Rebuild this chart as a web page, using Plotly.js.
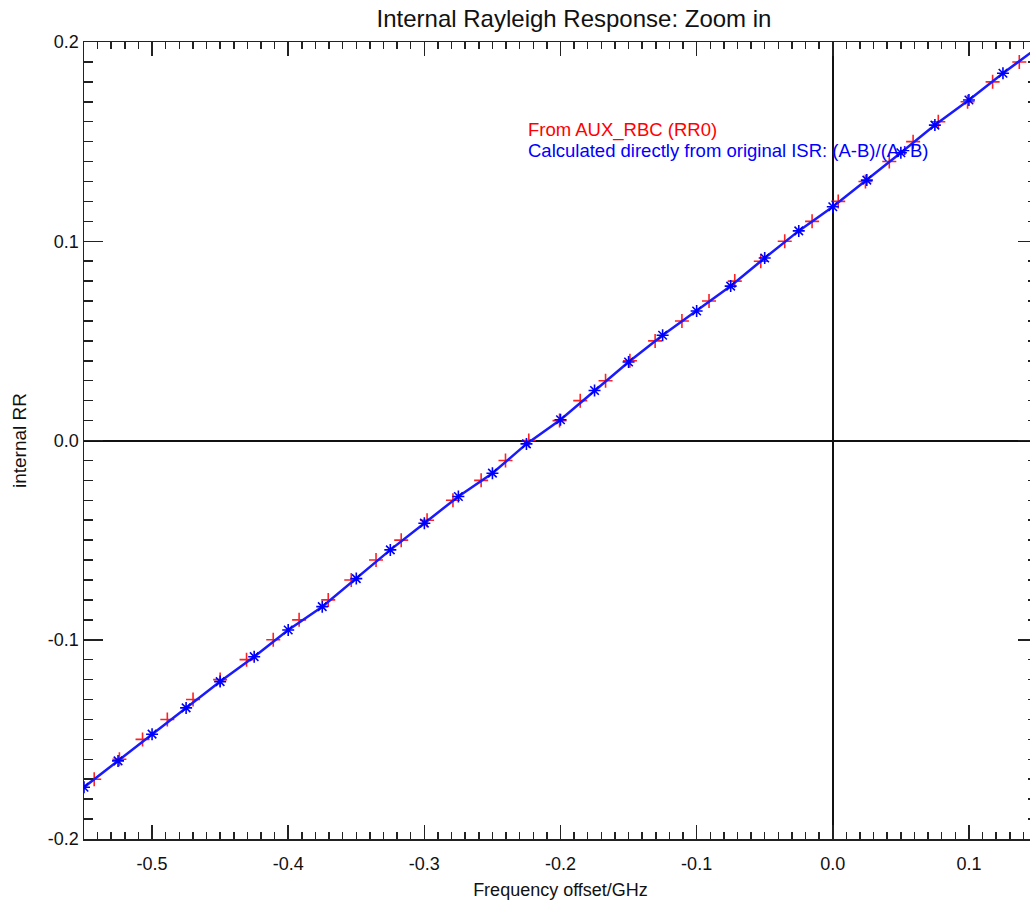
<!DOCTYPE html>
<html>
<head>
<meta charset="utf-8">
<script src="https://cdn.plot.ly/plotly-3.0.1.min.js"></script>
<style>
html, body { margin: 0; padding: 0; overflow: hidden; background: #fff; }
#chart { width: 1050px; height: 905px; }
</style>
</head>
<body>
<div id="chart"></div>
<script>
// Red series: From AUX_RBC (RR0)
const redFreq = [-0.5425, -0.524, -0.507, -0.4888, -0.4699, -0.450, -0.4306, -0.411, -0.392, -0.3706,
                 -0.3537, -0.3355, -0.317, -0.298, -0.279, -0.2583, -0.2404, -0.2233, -0.2007, -0.1855,
                 -0.1669, -0.149, -0.1305, -0.1108, -0.0909, -0.072, -0.0529, -0.0353, -0.0152, 0.004,
                 0.024, 0.0415, 0.059, 0.0775, 0.099, 0.1174, 0.137];
const redRR = [-0.17, -0.16, -0.15, -0.14, -0.13, -0.12, -0.11, -0.10, -0.09, -0.08,
               -0.07, -0.06, -0.05, -0.04, -0.03, -0.02, -0.01, 0.00, 0.01, 0.02,
               0.03, 0.04, 0.05, 0.06, 0.07, 0.08, 0.09, 0.10, 0.11, 0.12,
               0.13, 0.14, 0.15, 0.16, 0.17, 0.18, 0.19];

// Blue series: Calculated directly from original ISR
const blueFreq = [-0.55, -0.525, -0.5, -0.475, -0.45, -0.425, -0.4, -0.375, -0.35, -0.325,
                  -0.3, -0.275, -0.25, -0.225, -0.2, -0.175, -0.15, -0.125, -0.1, -0.075,
                  -0.05, -0.025, 0.0, 0.025, 0.05, 0.075, 0.1, 0.125, 0.15];
const blueRR = [-0.174, -0.1608, -0.1474, -0.1342, -0.1210, -0.1085, -0.0951, -0.0834, -0.0693, -0.0549,
                -0.0415, -0.0281, -0.0164, -0.0017, 0.0104, 0.0251, 0.0394, 0.0528, 0.065, 0.0775,
                0.0916, 0.1052, 0.1173, 0.1307, 0.1444, 0.1583, 0.1709, 0.1843, 0.197];

const xTickVals = [-0.5, -0.4, -0.3, -0.2, -0.1, 0.0, 0.1];
const xTickText = ["-0.5", "-0.4", "-0.3", "-0.2", "-0.1", "0.0", "0.1"];
const yTickVals = [-0.2, -0.1, 0.0, 0.1, 0.2];
const yTickText = ["-0.2", "-0.1", "0.0", "0.1", "0.2"];

const legendLabels = ["From AUX_RBC (RR0)", "Calculated directly from original ISR: (A-B)/(A+B)"];
const legendColors = ["#ff0000", "#0000ff"];

const FONT = "Liberation Sans, Arial, Helvetica, sans-serif";

const traces = [
  {
    x: redFreq, y: redRR, type: "scatter", mode: "markers", name: legendLabels[0],
    marker: { symbol: "cross-thin-open", size: 10, color: "#ff2020", line: { color: "#ff2020", width: 1.6 } },
    cliponaxis: true, hoverinfo: "x+y"
  },
  {
    x: blueFreq, y: blueRR, type: "scatter", mode: "lines+markers", name: legendLabels[1],
    line: { color: "#1a1aff", width: 2.5 },
    marker: { symbol: "asterisk-open", size: 10, color: "#0000ff", line: { color: "#0000ff", width: 1.6 } },
    cliponaxis: true, hoverinfo: "x+y"
  }
];

const axisCommon = {
  showgrid: false,
  zeroline: true,
  zerolinecolor: "#111",
  zerolinewidth: 2,
  showline: true,
  linecolor: "#222",
  linewidth: 1.5,
  mirror: "allticks",
  ticks: "inside",
  tickcolor: "#222",
  tickwidth: 1.5,
  tickfont: { family: FONT, size: 18, color: "#111" }
};

const layout = {
  width: 1050,
  height: 905,
  margin: { l: 84, r: 13, t: 42, b: 66 },
  paper_bgcolor: "#fff",
  plot_bgcolor: "#fff",
  showlegend: false,
  title: {
    text: "Internal Rayleigh Response: Zoom in",
    font: { family: FONT, size: 24, color: "#111" },
    xref: "container", x: 574 / 1050, xanchor: "center",
    yref: "container", y: 1 - 19 / 905, yanchor: "middle"
  },
  xaxis: Object.assign({}, axisCommon, {
    range: [-0.55, 0.15],
    tickmode: "array", tickvals: xTickVals, ticktext: xTickText,
    ticklen: 14,
    ticklabelstandoff: 8,
    minor: { dtick: 0.01, tick0: 0, ticks: "inside", ticklen: 7, tickcolor: "#222", tickwidth: 1.5, showgrid: false },
    title: { text: "Frequency offset/GHz", font: { family: FONT, size: 18, color: "#111" }, standoff: 10 }
  }),
  yaxis: Object.assign({}, axisCommon, {
    range: [-0.2, 0.2],
    tickmode: "array", tickvals: yTickVals, ticktext: yTickText,
    ticklen: 19,
    minor: { dtick: 0.01, tick0: 0, ticks: "inside", ticklen: 9, tickcolor: "#222", tickwidth: 1.5, showgrid: false },
    title: { text: "internal RR", font: { family: FONT, size: 19, color: "#111" }, standoff: 16 }
  }),
  annotations: [
    {
      x: -0.225, y: 0.1558, xref: "x", yref: "y", xanchor: "left", yanchor: "middle",
      text: legendLabels[0], showarrow: false,
      font: { family: FONT, size: 18.5, color: legendColors[0] }
    },
    {
      x: -0.225, y: 0.1457, xref: "x", yref: "y", xanchor: "left", yanchor: "middle",
      text: legendLabels[1], showarrow: false,
      font: { family: FONT, size: 18.5, color: legendColors[1] }
    }
  ]
};

Plotly.newPlot("chart", traces, layout, { displayModeBar: false, staticPlot: true });
</script>
</body>
</html>
